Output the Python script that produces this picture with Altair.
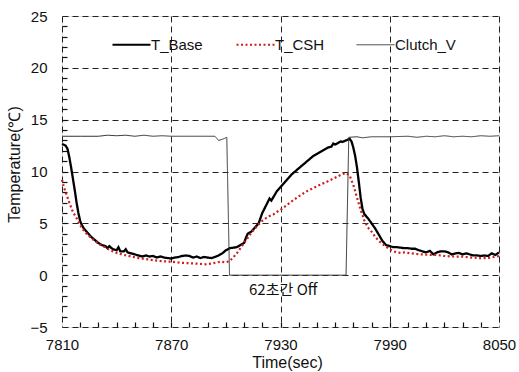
import altair as alt
import pandas as pd

# ---- data ----
base_t = [7810, 7812, 7813, 7814, 7815, 7816, 7817, 7818, 7819, 7820, 7821, 7822, 7824, 7826, 7828,
          7830, 7832, 7834, 7835, 7836, 7838, 7840, 7841, 7842, 7844, 7845, 7846, 7848, 7850, 7852,
          7854, 7856, 7858, 7860, 7862, 7864, 7866, 7868, 7870, 7872, 7874, 7876, 7878, 7880, 7882,
          7884, 7886, 7888, 7890, 7892, 7894, 7896, 7898, 7900, 7902, 7904, 7906, 7908, 7910, 7911,
          7912, 7914, 7915, 7917, 7918, 7919, 7920, 7922, 7924, 7925, 7926, 7928, 7930, 7932, 7934,
          7936, 7938, 7940, 7942, 7944, 7946, 7948, 7950, 7952, 7954, 7956, 7958, 7959, 7960, 7962,
          7963, 7964, 7966, 7968, 7969, 7970, 7971, 7972, 7973, 7974, 7975, 7976, 7978, 7980, 7982,
          7984, 7986, 7988, 7990, 7992, 7994, 7996, 7998, 8000, 8002, 8004, 8006, 8008, 8010, 8012,
          8014, 8016, 8018, 8020, 8022, 8024, 8026, 8028, 8030, 8032, 8034, 8036, 8038, 8040, 8042,
          8044, 8046, 8048, 8050]
base_v = [12.65, 12.5, 12.2, 11.4, 10.4, 9.3, 8.2, 7.0, 6.0, 5.2, 4.8, 4.5, 4.1, 3.7, 3.4,
          3.1, 2.9, 2.8, 2.6, 2.8, 2.5, 2.4, 2.7, 2.3, 2.3, 2.5, 2.2, 2.1, 2.0, 1.9,
          1.8, 1.9, 1.8, 1.85, 1.7, 1.8, 1.7, 1.65, 1.6, 1.7, 1.75, 1.85, 1.9, 1.85, 1.7,
          1.8, 1.65, 1.75, 1.7, 1.65, 1.75, 1.9, 2.1, 2.4, 2.6, 2.65, 2.7, 2.9, 3.1, 3.6,
          4.0, 4.2, 4.4, 4.8, 5.0, 5.5, 6.0, 6.7, 7.4, 7.2, 7.5, 8.1, 8.5, 8.9, 9.3,
          9.7, 10.0, 10.3, 10.6, 10.9, 11.2, 11.5, 11.7, 11.9, 12.1, 12.3, 12.4, 12.7, 12.6, 12.8,
          12.9, 12.85, 13.0, 13.15, 12.9, 12.3, 11.5, 10.4, 9.0, 7.5, 6.4, 5.9, 5.5, 5.0, 4.5,
          3.9, 3.3, 2.9, 2.8, 2.7, 2.7, 2.65, 2.6, 2.6, 2.55, 2.55, 2.4, 2.3, 2.2, 2.35,
          2.0, 2.2, 2.3, 2.3, 2.2, 2.0, 2.1, 2.15, 2.0, 2.1, 2.0, 1.9, 1.9, 1.85, 1.9,
          1.85, 2.1, 1.95, 2.2]

csh_t = [7810, 7811, 7812, 7814, 7816, 7818, 7820, 7822, 7824, 7826, 7828, 7830, 7833, 7836, 7840,
         7844, 7848, 7852, 7856, 7860, 7865, 7870, 7875, 7880, 7885, 7889, 7893, 7897, 7900, 7902,
         7904, 7906, 7908, 7910, 7912, 7914, 7916, 7918, 7920, 7922, 7924, 7926, 7928, 7930, 7933,
         7936, 7940, 7944, 7948, 7952, 7956, 7960, 7964, 7966, 7968, 7970, 7972, 7974, 7976, 7978,
         7980, 7982, 7984, 7986, 7988, 7990, 7992, 7994, 7996, 7998, 8000, 8004, 8008, 8012, 8016,
         8020, 8025, 8030, 8035, 8040, 8044, 8047, 8050]
csh_v = [9.2, 8.5, 8.0, 7.0, 6.1, 5.5, 4.8, 4.3, 3.9, 3.6, 3.3, 3.05, 2.75, 2.45, 2.15,
         1.95, 1.8, 1.65, 1.55, 1.45, 1.35, 1.3, 1.2, 1.15, 1.1, 1.05, 1.15, 1.3, 1.25, 1.35,
         1.7, 2.1, 2.6, 3.1, 3.6, 4.1, 4.5, 4.9, 5.25, 5.5, 5.7, 5.85, 6.1, 6.3, 6.7,
         7.1, 7.6, 8.05, 8.4, 8.75, 9.05, 9.4, 9.75, 9.85, 9.6, 8.7, 7.5, 6.3, 5.3, 4.6,
         4.2, 3.7, 3.3, 3.0, 2.75, 2.5, 2.3, 2.2, 2.15, 2.2, 2.15, 2.05, 2.0, 1.95, 1.95,
         1.85, 1.8, 1.78, 1.7, 1.63, 1.65, 1.75, 1.85]

clutch_t = [7810, 7820, 7830, 7835, 7840, 7845, 7850, 7855, 7860, 7865, 7870, 7880, 7890, 7894,
            7896, 7898, 7900.5, 7902, 7966, 7967.5, 7972, 7975, 7980, 7990, 8000, 8005, 8010,
            8015, 8020, 8025, 8030, 8035, 8040, 8045, 8050]
clutch_v = [13.4, 13.4, 13.4, 13.5, 13.45, 13.5, 13.4, 13.5, 13.4, 13.45, 13.4, 13.4, 13.4, 13.4,
            13.0, 13.1, 13.3, 0.0, 0.0, 13.3, 13.35, 13.25, 13.35, 13.35, 13.4, 13.3, 13.4,
            13.35, 13.45, 13.35, 13.4, 13.35, 13.45, 13.4, 13.45]

series = ["T_Base", "T_CSH", "Clutch_V"]
x_labels = [7810, 7870, 7930, 7990, 8050]
y_labels = [-5, 0, 5, 10, 15, 20, 25]
x_minor = list(range(7820, 8050, 10))
y_minor = list(range(-4, 25, 1))
note_text = "62초간 Off"
note_t, note_y = 7931.5, -1.45

FONT = "Liberation Sans"
W, H = 437, 311
xscale = alt.Scale(domain=[7810, 8050], nice=False, zero=False)
yscale = alt.Scale(domain=[-5, 25], nice=False, zero=False)

legend = alt.Legend(
    title=None, orient="none", legendX=62, legendY=21, direction="horizontal",
    symbolType="stroke", symbolSize=1444, labelFont=FONT, labelFontSize=15,
    labelColor="#111", labelOffset=12, columnPadding=29,
    symbolStrokeWidth=alt.ExprRef(expr="datum.value === 'Clutch_V' ? 1 : 2.2"),
)

xaxis = alt.Axis(values=x_labels, format="d", grid=True, gridDash=[6, 4], gridColor="#222",
                 gridWidth=1, ticks=False, tickSize=0, domain=False, labelFontSize=15,
                 labelFont=FONT, labelColor="#111", labelPadding=10, titleFont=FONT,
                 titleFontSize=16, titleFontWeight="normal", titleColor="#111",
                 titleX=225, titleY=27, labelFlush=False, orient="bottom")
yaxis = alt.Axis(values=y_labels, grid=True, gridDash=[6, 4], gridColor="#222", gridWidth=1,
                 ticks=False, tickSize=0, domain=False, labelFontSize=15, labelFont=FONT,
                 labelColor="#111", labelPadding=15, titleFont=FONT, titleFontSize=16,
                 titleFontWeight="normal", titleColor="#111", titleX=-40, titleY=148,
                 labelFlush=False, orient="left")

# minor inward ticks: axes on the opposite side, shifted onto the plot edge
x_minor_axis = alt.Axis(orient="top", offset=-H, values=x_minor, labels=False, grid=False,
                        domain=False, ticks=True, tickSize=5, tickWidth=1.2, tickColor="#111",
                        title=None)
y_minor_axis = alt.Axis(orient="right", offset=-W, values=y_minor, labels=False, grid=False,
                        domain=False, ticks=True, tickSize=5, tickWidth=1.2, tickColor="#111",
                        title=None)

color = alt.Color("s:N", sort=series,
                  scale=alt.Scale(domain=series, range=["#000000", "#cc1f1f", "#333333"]),
                  legend=legend)
dash = alt.StrokeDash("s:N", sort=series,
                      scale=alt.Scale(domain=series, range=[[1, 0], [2, 2.5], [1, 0]]),
                      legend=legend)


def series_layer(name, ts, vs, width, xa=None, ya=None):
    d = pd.DataFrame({"t": ts, "v": vs, "s": name, "o": range(len(ts))})
    return alt.Chart(d).mark_line(strokeWidth=width).encode(
        x=alt.X("t:Q", scale=xscale, title="Time(sec)", axis=xa),
        y=alt.Y("v:Q", scale=yscale, title="Temperature(℃)", axis=ya),
        color=color, strokeDash=dash, order="o:Q",
    )


clutch_layer = series_layer("Clutch_V", clutch_t, clutch_v, 1.0)
csh_layer = series_layer("T_CSH", csh_t, csh_v, 2.2)
base_layer = series_layer("T_Base", base_t, base_v, 2.3, xaxis, yaxis)

note = alt.Chart(pd.DataFrame({"t": [note_t], "v": [note_y], "txt": [note_text]})).mark_text(
    font="Noto Sans CJK KR", fontSize=15, color="#111", align="center", baseline="middle"
).encode(x=alt.X("t:Q", scale=xscale, axis=x_minor_axis),
         y=alt.Y("v:Q", scale=yscale, axis=y_minor_axis), text="txt:N")

chart = alt.layer(base_layer, clutch_layer, csh_layer, note).resolve_axis(
    x="independent", y="independent"
).properties(
    width=W, height=H,
    autosize=alt.AutoSizeParams(type="none"),
    padding={"left": 62, "top": 16, "right": 20, "bottom": 45},
).configure_view(stroke="#222", strokeWidth=1.6).configure(background="white")

chart.save("out.html", embed_options={"renderer": "svg", "actions": False})
